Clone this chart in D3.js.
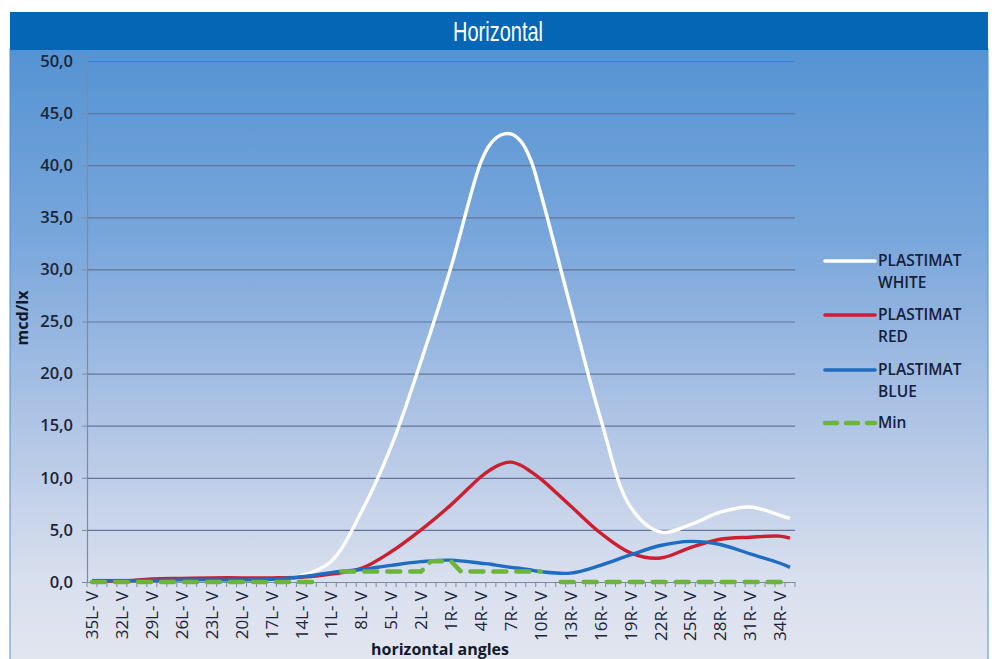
<!DOCTYPE html>
<html>
<head>
<meta charset="utf-8">
<script src="https://cdn.jsdelivr.net/npm/d3@7"></script>
<style>
  html, body { margin: 0; padding: 0; background: #ffffff; }
  svg { display: block; }
  .axis text { font-family: "Open Sans", sans-serif; fill: #1b2538; }
</style>
</head>
<body>
<svg id="chart" width="995" height="659"></svg>
<script>
(function () {
"use strict";

// every angle on the category axis (one per degree, labelled every third)
var angleNames = [];
for (var a = 35; a >= 1; a--) angleNames.push(a + "L- V");
angleNames.push("0- V");
for (var b = 1; b <= 35; b++) angleNames.push(b + "R- V");

var sampleAngles = ["35L- V", "32L- V", "29L- V", "26L- V", "23L- V", "20L- V", "17L- V", "14L- V",
  "11L- V", "8L- V", "5L- V", "2L- V", "1R- V", "4R- V", "5R- V", "6R- V", "7R- V", "8R- V", "9R- V",
  "10R- V", "13R- V", "16R- V", "19R- V", "22R- V", "25R- V", "28R- V", "31R- V", "34R- V", "35R- V"];

var whiteValues = [0.2, 0.2, 0.2, 0.2, 0.2, 0.25, 0.3, 0.6, 2.0, 6.7, 13.0, 21.2, 30.2, 40.3, 42.1,
  42.9, 43.0, 42.3, 40.5, 37.3, 26.4, 15.7, 7.2, 4.8, 5.5, 6.7, 7.2, 6.4, 6.1];
var redValues = [0.1, 0.1, 0.3, 0.35, 0.4, 0.4, 0.4, 0.45, 0.75, 1.3, 2.9, 5.0, 7.4, 10.1, 10.8,
  11.3, 11.5, 11.2, 10.6, 9.9, 7.3, 4.7, 2.8, 2.3, 3.3, 4.1, 4.3, 4.4, 4.2];
var blueValues = [0.15, 0.15, 0.15, 0.2, 0.2, 0.2, 0.25, 0.5, 0.9, 1.2, 1.6, 1.95, 2.1, 1.8, 1.7,
  1.55, 1.4, 1.3, 1.15, 1.0, 0.85, 1.6, 2.6, 3.5, 3.9, 3.6, 2.7, 1.8, 1.4];

// minimum requirement, one value per angle (null = no line)
var minValues = [
  0, 0, 0, 0, 0, 0, 0, 0, 0, 0, 0, 0, 0, 0, 0, 0, 0, 0, 0, 0, 0, 0, 0, 0,
  null,
  1, 1, 1, 1, 1, 1, 1, 1, 1,
  2, 2, 2,
  1, 1, 1, 1, 1, 1, 1, 1, 1,
  null,
  0, 0, 0, 0, 0, 0, 0, 0, 0, 0, 0, 0, 0, 0, 0, 0, 0, 0, 0, 0, 0, 0, 0, 0
];

var yTicks = [0, 5, 10, 15, 20, 25, 30, 35, 40, 45, 50];
var seriesNames = [["PLASTIMAT", "WHITE"], ["PLASTIMAT", "RED"], ["PLASTIMAT", "BLUE"], ["Min"]];
var seriesColors = ["#ffffff", "#cc1f30", "#1f6cc0", "#6cb43c"];

var svg = d3.select("#chart");
var defs = svg.append("defs");
var grad = defs.append("linearGradient").attr("id", "panelGrad")
  .attr("x1", 0).attr("y1", 0).attr("x2", 0).attr("y2", 1);
grad.append("stop").attr("offset", "0%").attr("stop-color", "#5593d3");
grad.append("stop").attr("offset", "30%").attr("stop-color", "#78a6db");
grad.append("stop").attr("offset", "60%").attr("stop-color", "#afc4e5");
grad.append("stop").attr("offset", "85%").attr("stop-color", "#d8dfee");
grad.append("stop").attr("offset", "100%").attr("stop-color", "#e3e6ef");

// panel and title bar
svg.append("rect").attr("x", 10).attr("y", 49).attr("width", 978).attr("height", 620)
  .attr("fill", "url(#panelGrad)").attr("stroke", "#4f8fd0").attr("stroke-width", 1);
svg.append("rect").attr("x", 10).attr("y", 12).attr("width", 978).attr("height", 38)
  .attr("fill", "#0466b4");
svg.append("text").attr("transform", "translate(498,41) scale(0.74,1)")
  .attr("text-anchor", "middle")
  .attr("font-family", "'Liberation Sans', sans-serif").attr("font-size", 27)
  .attr("fill", "#ffffff").text("Horizontal");

var plotLeft = 87, plotRight = 795, plotTop = 61, plotBottom = 582;

var x = d3.scaleBand().domain(angleNames).range([plotLeft, plotRight]).padding(0);
var y = d3.scaleLinear().domain([0, 50]).range([plotBottom, plotTop]);
function cx(name) { return x(name) + x.bandwidth() / 2; }

// gridlines
svg.append("g").attr("class", "grid")
  .attr("transform", "translate(" + plotLeft + ",0)")
  .call(d3.axisLeft(y).tickValues(yTicks).tickSize(-(plotRight - plotLeft)).tickFormat(""))
  .call(function (g) {
    g.select(".domain").remove();
    g.selectAll("line").attr("stroke", "#64749a").attr("stroke-width", 1.2);
  });

// y axis
svg.append("g").attr("class", "axis")
  .attr("transform", "translate(" + plotLeft + ",0)")
  .call(d3.axisLeft(y).tickValues(yTicks).tickSize(5).tickPadding(9)
    .tickFormat(function (d) { return d.toFixed(1).replace(".", ","); }))
  .call(function (g) {
    g.select(".domain").attr("stroke", "#7d8aa2").attr("stroke-width", 1.2);
    g.selectAll("line").attr("stroke", "#7d8aa2");
    g.selectAll("text").attr("font-size", 16.5).attr("font-weight", 600);
  });

// x axis: labels every third angle, minor ticks between all angles
var xAxis = svg.append("g").attr("class", "axis")
  .attr("transform", "translate(0," + plotBottom + ")")
  .call(d3.axisBottom(x)
    .tickValues(angleNames.filter(function (d, i) { return i % 3 === 0 && i < 70; }))
    .tickSize(0).tickPadding(0))
  .call(function (g) {
    g.select(".domain").attr("stroke", "#7d8aa2").attr("stroke-width", 1.2);
    g.selectAll("text")
      .attr("font-size", 17).attr("font-weight", 500)
      .attr("text-anchor", "end")
      .attr("transform", "rotate(-90)")
      .attr("x", -9).attr("y", 0).attr("dy", "0.36em");
  });

xAxis.selectAll(".minor").data(angleNames.concat([null])).enter().append("line")
  .attr("class", "minor")
  .attr("x1", function (d) { return d === null ? plotRight : x(d); })
  .attr("x2", function (d) { return d === null ? plotRight : x(d); })
  .attr("y1", 0).attr("y2", 5)
  .attr("stroke", "#7d8aa2").attr("stroke-width", 1);

// axis titles
svg.append("text").attr("transform", "translate(28,318) rotate(-90)")
  .attr("text-anchor", "middle").attr("font-family", "'Open Sans', sans-serif")
  .attr("font-size", 16).attr("font-weight", 700).attr("fill", "#111a2a").text("mcd/lx");
svg.append("text").attr("x", 440).attr("y", 655)
  .attr("text-anchor", "middle").attr("font-family", "'Open Sans', sans-serif")
  .attr("font-size", 16).attr("font-weight", 700).attr("fill", "#111a2a").text("horizontal angles");

// measured curves
var smooth = d3.line()
  .x(function (d) { return cx(d[0]); })
  .y(function (d) { return y(d[1]); })
  .curve(d3.curveCatmullRom.alpha(0.5));

[whiteValues, redValues, blueValues].forEach(function (vals, k) {
  var pts = sampleAngles.map(function (name, i) { return [name, vals[i]]; });
  svg.append("path").datum(pts)
    .attr("d", smooth)
    .attr("fill", "none")
    .attr("stroke", seriesColors[k])
    .attr("stroke-width", 3.4)
    .attr("stroke-linejoin", "round");
});

// minimum line
var minLine = d3.line()
  .defined(function (d) { return d[1] !== null; })
  .x(function (d) { return cx(d[0]); })
  .y(function (d) { return y(d[1]); });

svg.append("path")
  .datum(angleNames.map(function (name, i) { return [name, minValues[i]]; }))
  .attr("d", minLine)
  .attr("fill", "none")
  .attr("stroke", seriesColors[3])
  .attr("stroke-width", 4.5)
  .attr("stroke-dasharray", "13,10")
  .attr("stroke-linecap", "round");

// legend
var legendY = [261, 315, 370, 423];
seriesNames.forEach(function (lines, k) {
  var g = svg.append("g").attr("transform", "translate(823," + legendY[k] + ")");
  g.append("line").attr("x1", 2).attr("x2", 52).attr("y1", 0).attr("y2", 0)
    .attr("stroke", seriesColors[k])
    .attr("stroke-width", k === 3 ? 4.5 : 3.6)
    .attr("stroke-linecap", "round")
    .attr("stroke-dasharray", k === 3 ? "12,9" : null);
  lines.forEach(function (t, j) {
    g.append("text").attr("x", 55).attr("y", j * 22).attr("dy", "0.35em")
      .attr("font-family", "'Open Sans', sans-serif").attr("font-size", 15.5)
      .attr("font-weight", 600).attr("fill", "#16203a").text(t);
  });
});
}());
</script>
</body>
</html>
